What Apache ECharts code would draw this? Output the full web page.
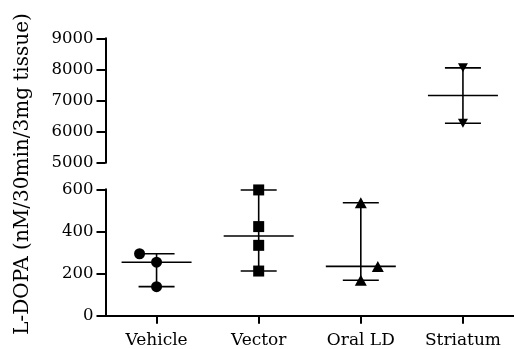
<!DOCTYPE html>
<html>
<head>
<meta charset="utf-8">
<script src="https://cdn.jsdelivr.net/npm/echarts@6/dist/echarts.min.js"></script>
<style>
  html, body { margin: 0; padding: 0; background: #fff; }
  #chart { width: 514px; height: 349px; }
</style>
</head>
<body>
<div id="chart"></div>
<script>
// 数据
const categories = ['Vehicle', 'Vector', 'Oral LD', 'Striatum']
const vehicle = [294, 254, 138]
const vector = [597, 423, 334, 212]
const oralLD = [536, 234, 168]
const striatum = [8050, 6270]
const lowTicks = [0, 200, 400, 600]
const highTicks = [5000, 6000, 7000, 8000, 9000]

const groups = [vehicle, vector, oralLD, striatum]
const symbols = ['circle', 'rect', 'triangle', 'triangle']

// GraphPad 散点避让 (group index -> point index -> px)
const jitter = { 0: { 0: -17 }, 2: { 1: 17 } }

function median(arr) {
  const s = arr.slice().sort((a, b) => a - b)
  const m = Math.floor(s.length / 2)
  return s.length % 2 ? s[m] : (s[m - 1] + s[m]) / 2
}

const font = 'DejaVu Serif'
const ink = '#000'

const chart = echarts.init(document.getElementById('chart'))

const gridLeft = 105.5
const gridWidth = 420

const series = []
groups.forEach((vals, gi) => {
  const idx = vals[0] > lowTicks[lowTicks.length - 1] ? 0 : 1
  series.push({
    type: 'custom',
    xAxisIndex: idx,
    yAxisIndex: idx,
    silent: true,
    z: 2,
    data: [[gi, Math.min(...vals), median(vals), Math.max(...vals)]],
    renderItem: function (params, api) {
      const lo = api.coord([api.value(0), api.value(1)])
      const md = api.coord([api.value(0), api.value(2)])
      const hi = api.coord([api.value(0), api.value(3)])
      const capW = 18
      const medW = 35
      const st = { stroke: ink, lineWidth: 1.6 }
      return {
        type: 'group',
        children: [
          { type: 'line', shape: { x1: lo[0], y1: lo[1], x2: hi[0], y2: hi[1] }, style: st },
          { type: 'line', shape: { x1: lo[0] - capW, y1: lo[1], x2: lo[0] + capW, y2: lo[1] }, style: st },
          { type: 'line', shape: { x1: hi[0] - capW, y1: hi[1], x2: hi[0] + capW, y2: hi[1] }, style: st },
          { type: 'line', shape: { x1: md[0] - medW, y1: md[1], x2: md[0] + medW, y2: md[1] }, style: st }
        ]
      }
    }
  })
  series.push({
    type: 'scatter',
    xAxisIndex: idx,
    yAxisIndex: idx,
    silent: true,
    z: 3,
    symbol: symbols[gi],
    symbolSize: gi === 3 ? [10, 9] : (gi === 2 ? [12, 11] : 11),
    symbolRotate: gi === 3 ? 180 : 0,
    itemStyle: { color: ink, opacity: 1 },
    data: vals.map((v, i) => {
      const off = jitter[gi] && jitter[gi][i] ? jitter[gi][i] : 0
      return { value: [categories[gi], v], symbolOffset: [off, 0] }
    })
  })
})

const yLabel = {
  color: ink, fontFamily: font, fontSize: 16.5, margin: 12,
  formatter: v => String(v)
}
const axisLine = { show: true, lineStyle: { color: ink, width: 2 } }
const axisTick = { show: true, length: 9, lineStyle: { color: ink, width: 2 } }

chart.setOption({
  animation: false,
  grid: [
    { left: gridLeft, width: gridWidth, top: 38.3, height: 124.4 },
    { left: gridLeft, width: gridWidth, top: 189.3, height: 126.4 }
  ],
  xAxis: [
    { type: 'category', gridIndex: 0, data: categories, show: false },
    {
      type: 'category',
      gridIndex: 1,
      data: categories,
      axisLine: axisLine,
      axisTick: { show: true, alignWithLabel: true, length: 8, lineStyle: { color: ink, width: 2 } },
      axisLabel: { color: ink, fontFamily: font, fontSize: 17, margin: 16 }
    }
  ],
  yAxis: [
    {
      type: 'value',
      gridIndex: 0,
      min: highTicks[0],
      max: highTicks[highTicks.length - 1],
      interval: highTicks[1] - highTicks[0],
      axisLine: axisLine,
      axisTick: axisTick,
      axisLabel: yLabel,
      splitLine: { show: false }
    },
    {
      type: 'value',
      gridIndex: 1,
      min: lowTicks[0],
      max: lowTicks[lowTicks.length - 1],
      interval: lowTicks[1] - lowTicks[0],
      axisLine: axisLine,
      axisTick: axisTick,
      axisLabel: yLabel,
      splitLine: { show: false }
    }
  ],
  graphic: [{
    type: 'text',
    x: 23,
    y: 174,
    rotation: Math.PI / 2,
    style: {
      text: 'L-DOPA (nM/30min/3mg tissue)',
      fill: ink,
      font: '20px "DejaVu Serif"',
      align: 'center',
      verticalAlign: 'middle'
    }
  }],
  series: series
})
</script>
</body>
</html>
